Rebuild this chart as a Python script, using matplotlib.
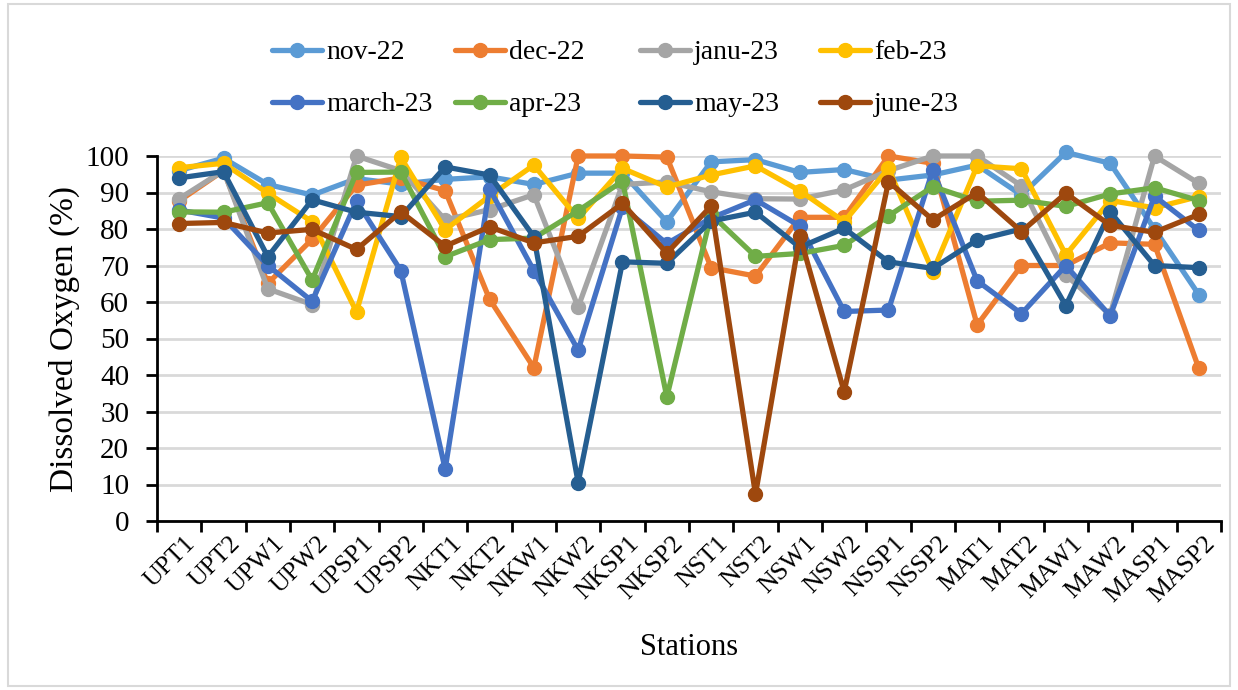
import numpy as np
import matplotlib
matplotlib.use("Agg")
import matplotlib.pyplot as plt
import matplotlib.transforms as mtransforms
from matplotlib.patches import Rectangle
from matplotlib.ticker import MultipleLocator

# Sampling stations along the river
stations = ["UPT1", "UPT2", "UPW1", "UPW2", "UPSP1", "UPSP2", "NKT1", "NKT2",
            "NKW1", "NKW2", "NKSP1", "NKSP2", "NST1", "NST2", "NSW1", "NSW2",
            "NSSP1", "NSSP2", "MAT1", "MAT2", "MAW1", "MAW2", "MASP1", "MASP2"]

months = ["nov-22", "dec-22", "janu-23", "feb-23",
          "march-23", "apr-23", "may-23", "june-23"]

# Dissolved oxygen saturation (%) per month
nov_22 = [96, 99.4, 92.2, 89.3, 93.8, 92.3, 93.6, 94.3, 92.2, 95.3, 95.3, 82.0,
          98.4, 99.0, 95.5, 96.3, 93.4, 94.8, 97.5, 89.3, 101.0, 98.0, 80.0, 62.0]
dec_22 = [87.7, 96.0, 65.1, 77.2, 92.0, 94.0, 90.5, 60.8, 42.0, 100.0, 100.0, 99.7,
          69.4, 67.1, 83.2, 83.2, 100.0, 98.0, 53.7, 70.0, 70.0, 76.2, 75.8, 41.8]
janu_23 = [88.3, 96.0, 63.6, 59.3, 100.0, 96.0, 82.5, 85.3, 89.4, 58.6, 92.2, 92.9,
           90.2, 88.3, 88.2, 90.7, 96.0, 100.0, 100.0, 91.8, 67.4, 56.5, 100.0, 92.5]
feb_23 = [96.8, 98.0, 89.8, 82.0, 57.3, 99.6, 79.8, 89.0, 97.5, 82.9, 96.6, 91.5,
          94.8, 97.3, 90.5, 82.0, 96.6, 68.3, 97.3, 96.5, 72.9, 87.8, 85.8, 88.9]
march_23 = [85.2, 83.0, 70.0, 60.2, 87.6, 68.6, 14.2, 91.0, 68.6, 46.8, 86.0, 76.0,
            83.0, 88.0, 80.8, 57.4, 57.8, 96.2, 65.8, 56.8, 70.0, 56.2, 89.0, 79.6]
apr_23 = [84.7, 84.6, 87.2, 66.0, 95.5, 95.6, 72.4, 77.1, 77.5, 85.0, 93.1, 34.0,
          84.0, 72.5, 73.3, 75.5, 83.6, 91.6, 87.6, 87.9, 86.2, 89.6, 91.3, 87.8]
may_23 = [94.0, 95.7, 72.4, 88.0, 84.6, 83.4, 97.0, 94.8, 77.9, 10.5, 71.0, 70.6,
          82.2, 84.6, 75.0, 80.2, 71.0, 69.2, 77.0, 80.0, 59.0, 84.7, 70.0, 69.4]
june_23 = [81.5, 81.8, 78.9, 79.9, 74.4, 84.7, 75.3, 80.6, 76.2, 78.0, 87.0, 73.4,
           86.3, 7.3, 78.1, 35.4, 93.0, 82.5, 90.0, 79.3, 89.8, 81.0, 79.1, 84.0]

series = [nov_22, dec_22, janu_23, feb_23, march_23, apr_23, may_23, june_23]
colors = ["#5B9BD5", "#ED7D31", "#A5A5A5", "#FFC000",
          "#4472C4", "#70AD47", "#255E91", "#9E480E"]

plt.rcParams['font.family'] = ['Liberation Serif', 'DejaVu Serif']

W, H = 1238, 690
fig = plt.figure(figsize=(W / 100, H / 100), dpi=100)
fig.patch.set_facecolor("white")

# chart frame
fig.patches.append(Rectangle((8 / W, 4 / H), (1230 - 8) / W, (686 - 4) / H,
                             transform=fig.transFigure, fill=False,
                             edgecolor="#d9d9d9", lw=1.5))

left, right, top, bottom = 157, 1221, 156, 521
ax = fig.add_axes([left / W, 1 - bottom / H, (right - left) / W, (bottom - top) / H])

x = np.arange(len(stations))
lines = []
for vals, label, color in zip(series, months, colors):
    ln, = ax.plot(x, vals, color=color, lw=3.8, marker="o", ms=10, label=label,
                  clip_on=False, solid_joinstyle="round", solid_capstyle="round")
    lines.append(ln)

ax.set_xlim(-0.5, len(stations) - 0.5)
ax.set_ylim(0, 100)
ax.yaxis.set_major_locator(MultipleLocator(10))
ax.grid(axis="y", color="#d9d9d9", lw=2)
ax.set_axisbelow(True)

for s in ["top", "right"]:
    ax.spines[s].set_visible(False)
for s in ["left", "bottom"]:
    ax.spines[s].set_linewidth(2)
    ax.spines[s].set_color("black")

# tick marks between categories, labels at category centres
ax.set_xticks(np.arange(-0.5, len(stations), 1))
ax.set_xticklabels([])
ax.set_xticks(x, minor=True)
ax.set_xticklabels(stations, minor=True, rotation=45, ha="right", va="center",
                   rotation_mode="anchor", fontsize=18.5)
ax.tick_params(axis="x", which="major", length=8, width=2, direction="out")
ax.tick_params(axis="x", which="minor", length=0, pad=14)
offset = mtransforms.ScaledTranslation(13 / 100, 0, fig.dpi_scale_trans)
for lab in ax.get_xticklabels(minor=True):
    lab.set_transform(lab.get_transform() + offset)

ax.tick_params(axis="y", length=8, width=2, direction="out", labelsize=21, pad=12)

ax.set_ylabel("Dissolved Oxygen (%)", fontsize=24, labelpad=4)
ax.set_xlabel("Stations", fontsize=22, labelpad=19)

# legend: one column per pair of months (top row / bottom row)
col_x = [272, 455, 640, 820]
for c, cx in enumerate(col_x):
    pair = [lines[c], lines[c + 4]]
    fig.legend(handles=pair, labels=[months[c], months[c + 4]],
               loc="upper left", bbox_to_anchor=(cx / W, 1 - 40 / H),
               ncol=1, frameon=False, fontsize=20, handlelength=1.8,
               handletextpad=0.15, labelspacing=0.95, borderaxespad=0,
               borderpad=0)

fig.savefig("out.png", dpi=100)
